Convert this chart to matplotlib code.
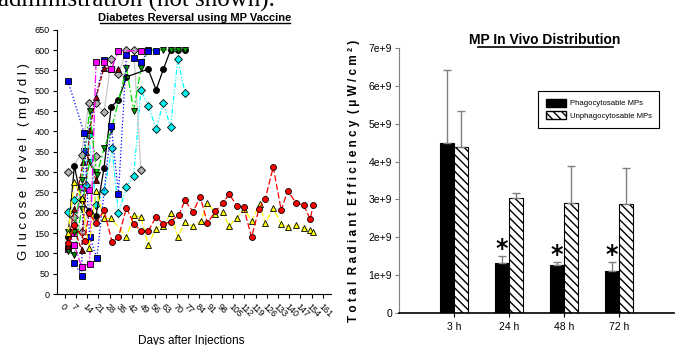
import matplotlib
matplotlib.use("Agg")
import matplotlib.pyplot as plt
from matplotlib.lines import Line2D
from matplotlib.patches import Patch

NARROW = ['Liberation Sans Narrow', 'Liberation Sans', 'DejaVu Sans']
plt.rcParams['font.family'] = NARROW

# ---- left panel: glucose curves (days, mg/dl) ----
day_ticks = list(range(0, 162, 7))

black_x = [2, 6, 10.5, 15, 19.5, 24.5, 29, 33.5, 38.5, 52, 57, 61.5, 66, 70.5, 75]
black_y = [140, 315, 230, 205, 192, 310, 461, 477, 534, 553, 502, 553, 600, 600, 600]

gray1_x = [2, 10.5, 15, 19.5, 24.5, 29, 33.5, 38.5, 43, 47.5]
gray1_y = [301, 343, 469, 469, 447, 577, 541, 600, 600, 306]
gray2_x = [6, 10.5, 15, 19.5]
gray2_y = [190, 153, 202, 340]

blue1_x = [2, 12, 15.5, 20, 29, 33.5, 38.5, 43, 47.5, 52, 57]
blue1_y = [524, 397, 141, 88, 413, 247, 588, 580, 570, 598, 598]
blue2_x = [6, 10.5, 12, 24.5]
blue2_y = [77, 44, 352, 575]

magenta1_x = [6, 10.5, 15.5, 19.5, 24.5, 29, 33.5, 47.5]
magenta1_y = [120, 67, 75, 570, 570, 553, 598, 598]
magenta2_x = [2, 6, 10.5, 15]
magenta2_y = [110, 150, 262, 256]

darkred1_x = [2, 6, 10.5, 15.5, 19.5, 24.5, 29, 33.5]
darkred1_y = [117, 160, 108, 403, 484, 557, 553, 553]
darkred2_x = [2, 6, 11.5, 13.5, 19.5]
darkred2_y = [125, 210, 325, 350, 280]

green1_x = [2, 6, 10.5, 15.5, 20, 24.5, 29, 38.5, 43, 47.5, 52, 61.5, 66, 70.5, 75]
green1_y = [153, 153, 280, 451, 293, 358, 403, 555, 451, 555, 600, 600, 600, 600, 600]
green2_x = [2, 6, 10.5, 15.5, 19.5]
green2_y = [105, 96, 210, 325, 300]

cyan_x = [2, 6, 13, 15, 19.5, 24.5, 29.5, 33.5, 38.5, 43, 47.5, 52, 57, 61.5, 66, 70.5, 75]
cyan_y = [202, 230, 268, 391, 219, 254, 358, 198, 264, 290, 502, 463, 407, 470, 410, 577, 495]

red_x = [2, 6, 12.5, 15, 19.5, 24.5, 29.5, 33.5, 38.5, 43, 47.5, 52, 57, 61.5, 66,
         71, 75, 80, 84.5, 89, 94, 98.5, 102.5, 107.5, 111.5, 116.5, 121, 125, 130, 135,
         139, 144, 149, 153, 155]
red_y = [125, 170, 131, 200, 174, 206, 128, 140, 212, 173, 155, 154, 190, 172, 178,
         194, 230, 202, 239, 174, 204, 223, 246, 216, 213, 140, 208, 234, 312, 206,
         254, 225, 218, 184, 219]

yellow_x = [2, 6, 10.5, 15, 19.5, 24.5, 29, 38.5, 43, 47.5, 52, 57, 61.5, 66, 70.5,
            75, 80, 85, 89, 94, 98.5, 102.5, 107.5, 112, 116.5, 121.5, 125, 130, 135, 139,
            144, 149, 153, 155]
yellow_y = [150, 276, 237, 112, 254, 186, 186, 139, 194, 189, 120, 161, 168, 198, 141,
            176, 167, 180, 225, 197, 202, 167, 188, 209, 180, 221, 174, 211, 172, 166,
            170, 163, 157, 153]

# ---- right panel: bars ----
times = ['3 h', '24 h', '48 h', '72 h']
phago = [4.50e9, 1.32e9, 1.26e9, 1.12e9]
phago_err = [1.90e9, 0.19e9, 0.08e9, 0.22e9]
unphago = [4.38e9, 3.03e9, 2.90e9, 2.88e9]
unphago_err = [0.94e9, 0.14e9, 0.99e9, 0.95e9]
significant = [False, True, True, True]

fig = plt.figure(figsize=(6.76, 3.45), dpi=100)

# cut-off caption line from the page above
fig.text(-0.003, 1 - 7 / 345, 'administration (not shown).', family='Liberation Serif',
         fontsize=18, va='baseline', ha='left')

ax = fig.add_axes([0.0839, 0.1478, 0.4057, 0.7661])

series = [
    (gray2_x, gray2_y, '#c8c8c8', '#b0b0b0', 'D', '-'),
    (magenta2_x, magenta2_y, '#ff00ff', '#ff00ff', 's', '-.'),
    (darkred2_x, darkred2_y, '#a00000', '#8b0000', '^', '--'),
    (green2_x, green2_y, '#00dd00', '#007a00', 'v', '-.'),
    (blue2_x, blue2_y, '#0000ff', '#0000ee', 's', ':'),
    (cyan_x, cyan_y, '#00ffff', '#00f0f0', 'D', (0, (4, 1.5, 1, 1.5, 1, 1.5))),
    (gray1_x, gray1_y, '#c8c8c8', '#b0b0b0', 'D', '-'),
    (black_x, black_y, 'black', 'black', 'o', '-'),
    (darkred1_x, darkred1_y, '#a00000', '#8b0000', '^', '--'),
    (magenta1_x, magenta1_y, '#ff00ff', '#ff00ff', 's', '-.'),
    (green1_x, green1_y, '#00dd00', '#009a00', 'v', (0, (6, 2, 1.5, 2))),
    (blue1_x, blue1_y, '#0000ff', '#0000ee', 's', ':'),
    (yellow_x, yellow_y, '#ffff00', '#ffff00', '^', (0, (5, 2))),
    (red_x, red_y, '#ff0000', '#ff0000', 'o', (0, (5, 2))),
]
for xs, ys, lc, mc, mk, ls in series:
    ax.plot(xs, ys, color=lc, linestyle=ls, linewidth=0.9, marker=mk,
            markerfacecolor=mc, markeredgecolor='black', markeredgewidth=0.6,
            markersize=4.3)

ax.set_xlim(-5, 166)
ax.set_ylim(0, 650)
ax.set_xticks(day_ticks)
ax.set_xticklabels([str(d) for d in day_ticks], rotation=-45, ha='left',
                   va='top', rotation_mode='anchor', fontsize=6.5)
ax.set_yticks(range(0, 651, 50))
ax.tick_params(axis='y', labelsize=6.5, length=3, width=0.8, pad=2)
ax.tick_params(axis='x', length=3, width=0.8, pad=3)
ax.spines['top'].set_visible(False)
ax.spines['right'].set_visible(False)
ax.set_ylabel('G l u c o s e   l e v e l   ( m g / d l )', fontsize=9.5,
              family='Liberation Sans', labelpad=3)
fig.text(0.283, 1 - 344 / 345, 'Days after Injections', fontsize=8.5,
         ha='center', va='baseline')

fig.text(195 / 676, 1 - 21 / 345, 'Diabetes Reversal using MP Vaccine',
         fontsize=8, fontweight='bold', ha='center', va='baseline')
fig.add_artist(Line2D([100 / 676, 290 / 676], [1 - 23 / 345] * 2,
                      transform=fig.transFigure, color='black', linewidth=1))

# ---- right panel ----
bx = fig.add_axes([0.590, 0.0919, 0.407, 0.7698])
pos = [1, 2, 3, 4]
w = 0.26
p_pos = [p - w / 2 for p in pos]
u_pos = [p + w / 2 for p in pos]
bx.bar(p_pos, phago, width=w, color='black', edgecolor='black', linewidth=0.8,
       yerr=[[0] * 4, phago_err], ecolor='#808080',
       error_kw=dict(capsize=3, elinewidth=1, capthick=1))
bx.bar(u_pos, unphago, width=w, color='white', edgecolor='black', linewidth=0.8,
       hatch='\\\\\\\\', yerr=[[0] * 4, unphago_err], ecolor='#808080',
       error_kw=dict(capsize=3, elinewidth=1, capthick=1))
for x, v, e, s in zip(p_pos, phago, phago_err, significant):
    if s:
        bx.text(x, v + e - 0.12e9, '*', fontsize=17, fontweight='bold',
                ha='center', va='bottom', family='DejaVu Sans')

bx.set_xlim(0, 5)
bx.set_ylim(0, 7e9)
bx.set_xticks(pos)
bx.set_xticklabels(times, fontsize=7.5)
bx.set_yticks([i * 1e9 for i in range(8)])
bx.set_yticklabels(['0'] + ['%de+9' % i for i in range(1, 8)], fontsize=7.5)
bx.tick_params(axis='x', length=3, width=0.8, pad=3)
bx.tick_params(axis='y', length=3, width=0.8, color='#808080', pad=2)
bx.spines['top'].set_visible(False)
bx.spines['right'].set_visible(False)
bx.spines['left'].set_color('#808080')
bx.spines['bottom'].set_linewidth(1.2)
bx.set_ylabel('T o t a l  R a d i a n t  E f f i c i e n c y  ( μ W / c m ² )',
              fontsize=8.5, fontweight='bold', family=['Liberation Sans', 'DejaVu Sans'],
              labelpad=6)

handles = [Patch(facecolor='black', edgecolor='black'),
           Patch(facecolor='white', edgecolor='black', hatch='\\\\\\\\')]
leg = bx.legend(handles, ['Phagocytosable MPs', 'Unphagocytosable MPs'],
                loc='upper left', bbox_to_anchor=(0.505, 0.837), fontsize=5.6,
                fancybox=False, edgecolor='black', framealpha=1,
                handlelength=2.6, handleheight=1.2, handletextpad=0.5,
                borderpad=1.0, labelspacing=0.5, borderaxespad=0)
leg.get_frame().set_linewidth(0.8)

fig.text(545 / 676, 1 - 44 / 345, 'MP In Vivo Distribution', fontsize=10,
         fontweight='bold', ha='center', va='baseline')
fig.add_artist(Line2D([478 / 676, 613 / 676], [1 - 46.5 / 345] * 2,
                      transform=fig.transFigure, color='black', linewidth=1.2))

fig.savefig('out.png', dpi=100)
